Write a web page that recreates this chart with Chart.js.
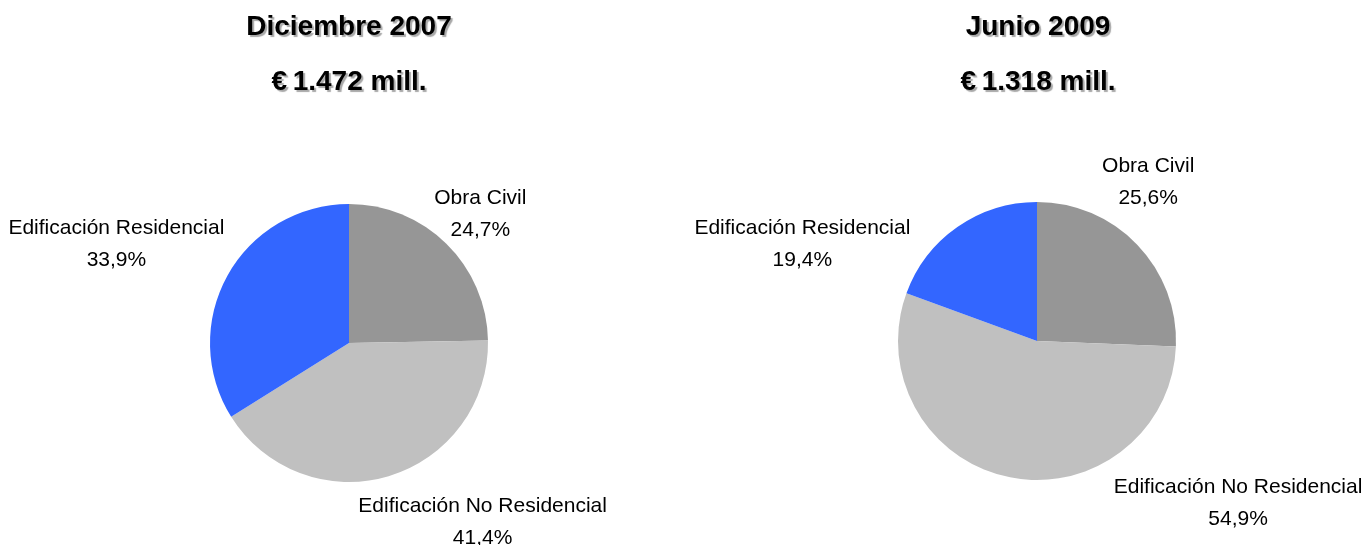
<!DOCTYPE html>
<html>
<head>
<meta charset="utf-8">
<script src="https://cdn.jsdelivr.net/npm/chart.js@4"></script>
<style>
  html, body { margin: 0; padding: 0; background: #fff; }
  #page { position: relative; width: 1368px; height: 545px; overflow: hidden; }
  .box { position: absolute; top: 0; width: 684px; height: 545px; }
  .title {
    position: absolute; width: 400px; text-align: center;
    font-family: "Liberation Sans", Arial, sans-serif; font-weight: bold; font-size: 28px;
    color: #000; text-shadow: 2px 2px 1px #a8a8a8; line-height: 1;
  }
</style>
</head>
<body>
<div id="page">
  <div class="box" style="left:0"><canvas id="pie1"></canvas></div>
  <div class="box" style="left:684px"><canvas id="pie2"></canvas></div>
  <div class="title" style="left:149px; top:12px">Diciembre 2007</div>
  <div class="title" style="left:149px; top:67px">€&#8201;1.472 mill.</div>
  <div class="title" style="left:838px; top:12px">Junio 2009</div>
  <div class="title" style="left:838px; top:67px">€&#8201;1.318 mill.</div>
</div>
<script>
// sectores (orden en el sentido de las agujas, empezando arriba)
const sectors = ["Obra Civil", "Edificación No Residencial", "Edificación Residencial"];
const dec2007 = [24.7, 41.4, 33.9];
const jun2009 = [25.6, 54.9, 19.4];
const colors = ["#969696", "#C0C0C0", "#3366FF"];

// label offsets from the point on the rim at the middle of each slice
const offs1 = [[34, -40], [94, 36], [-111, -42]];
const offs2 = [[11, -73], [228, 16], [-155, 7]];

const fmt = v => v.toFixed(1).replace(".", ",") + "%";

const outerLabels = {
  id: "outerLabels",
  afterDatasetsDraw(chart, args, opts) {
    const ctx = chart.ctx;
    const meta = chart.getDatasetMeta(0);
    const data = chart.data.datasets[0].data;
    ctx.save();
    ctx.font = '21px "Liberation Sans", Arial, sans-serif';
    ctx.fillStyle = "#000";
    ctx.textAlign = "center";
    ctx.textBaseline = "alphabetic";
    meta.data.forEach((arc, i) => {
      const mid = (arc.startAngle + arc.endAngle) / 2;
      const px = arc.x + Math.cos(mid) * arc.outerRadius;
      const py = arc.y + Math.sin(mid) * arc.outerRadius;
      const x = px + opts.offsets[i][0];
      const y = py + opts.offsets[i][1];
      ctx.fillText(chart.data.labels[i], x, y);
      ctx.fillText(fmt(data[i]), x, y + 32);
    });
    ctx.restore();
  }
};

function makePie(id, values, offsets, pad) {
  return new Chart(document.getElementById(id), {
    type: "pie",
    data: {
      labels: sectors,
      datasets: [{
        data: values,
        backgroundColor: colors,
        borderWidth: 0,
        hoverOffset: 0
      }]
    },
    options: {
      responsive: true,
      maintainAspectRatio: false,
      animation: false,
      layout: { padding: pad },
      plugins: {
        legend: { display: false },
        tooltip: { enabled: false },
        outerLabels: { offsets: offsets }
      }
    },
    plugins: [outerLabels]
  });
}

makePie("pie1", dec2007, offs1, { left: 210, right: 196, top: 204, bottom: 63 });
makePie("pie2", jun2009, offs2, { left: 214, right: 192, top: 202, bottom: 65 });
</script>
</body>
</html>
